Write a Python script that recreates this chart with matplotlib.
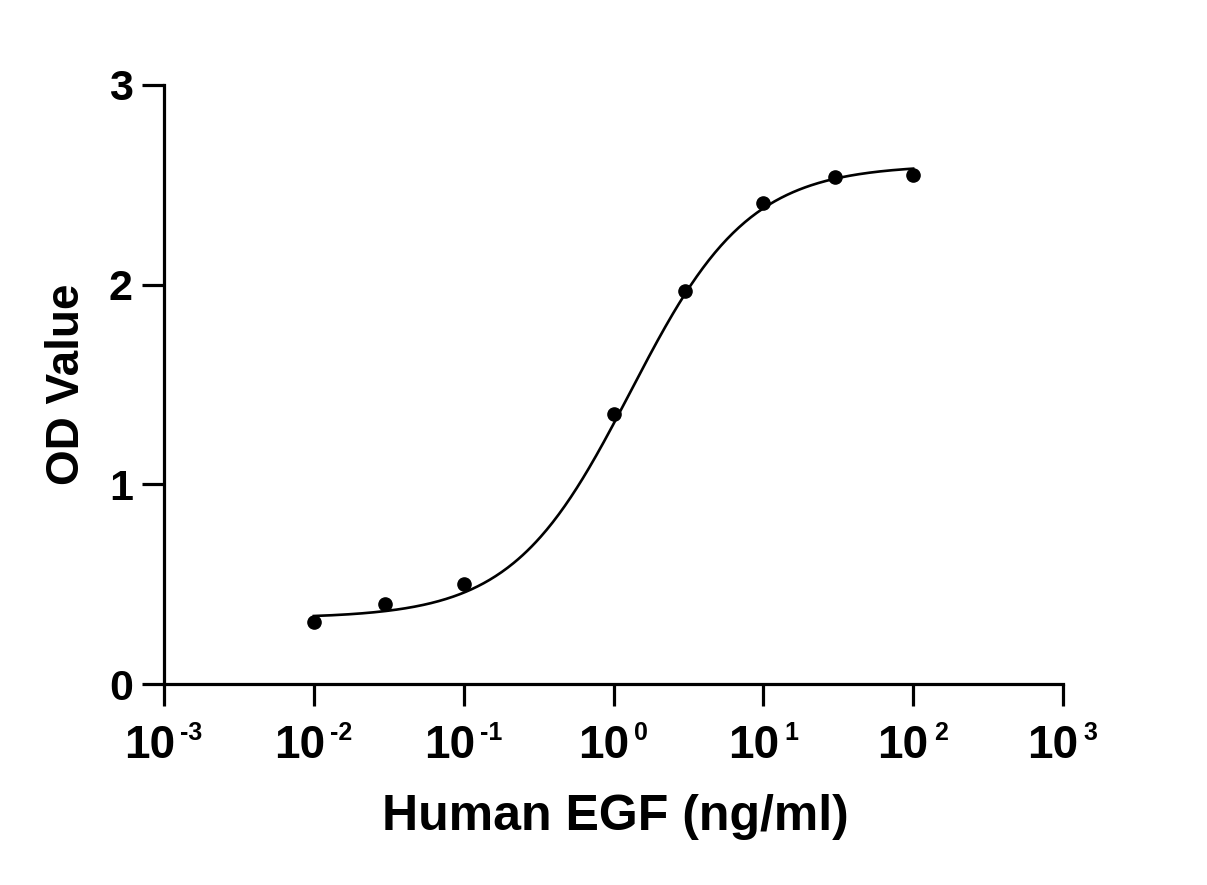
import numpy as np
import matplotlib
matplotlib.use('Agg')
import matplotlib.pyplot as plt
from matplotlib.ticker import FixedLocator, NullLocator
from matplotlib.transforms import offset_copy

plt.rcParams['font.family'] = ['Liberation Sans', 'DejaVu Sans']
plt.rcParams['font.weight'] = 'bold'

# measured points
conc = [0.01, 0.03, 0.1, 1, 3, 10, 30, 100]
od = [0.31, 0.40, 0.50, 1.35, 1.97, 2.41, 2.54, 2.55]

# 4PL fit parameters
bottom = 0.33
top = 2.60
ec50 = 1.3
hill = 1.1

x_exps = [-3, -2, -1, 0, 1, 2, 3]
y_ticks = [0, 1, 2, 3]

fig = plt.figure(figsize=(12.07, 8.85), dpi=100)
ax = fig.add_axes([0.1359, 0.2271, 0.7448, 0.6769])

xc = np.logspace(np.log10(conc[0]), np.log10(conc[-1]), 400)
yc = bottom + (top - bottom) / (1 + (ec50 / xc) ** hill)
ax.plot(xc, yc, color='black', lw=1.9)
ax.plot(conc, od, 'o', color='black', ms=9.5)

ax.set_xscale('log')
ax.set_xlim(1e-3, 1e3)
ax.set_ylim(0, 3)
ax.xaxis.set_major_locator(FixedLocator([10.0 ** e for e in x_exps]))
ax.xaxis.set_minor_locator(NullLocator())
ax.set_yticks(y_ticks)

for s in ['top', 'right']:
    ax.spines[s].set_visible(False)
for s in ['left', 'bottom']:
    ax.spines[s].set_linewidth(2.3)
ax.tick_params(direction='out', length=16, width=2.3, labelsize=31, pad=6.5)
ax.tick_params(axis='x', labelbottom=False)

# x tick labels: "10" with a small raised exponent, centred on the tick
trans = ax.get_xaxis_transform()
for e in x_exps:
    s = str(e).replace('-', '-')
    w = 25 * (0.556 * len(str(abs(e))) + (0.333 if e < 0 else 0))
    dx = (45 - w) / 2
    t1 = offset_copy(trans, fig=fig, x=dx, y=-74, units='dots')
    t2 = offset_copy(trans, fig=fig, x=dx + 5, y=-56, units='dots')
    ax.text(10.0 ** e, 0, '10', transform=t1, ha='right', va='baseline',
            fontsize=33, fontweight='bold')
    ax.text(10.0 ** e, 0, s, transform=t2, ha='left', va='baseline',
            fontsize=18, fontweight='bold')

ax.set_xlabel('Human EGF (ng/ml)', fontsize=36, fontweight='bold')
ax.xaxis.label.set_va('baseline')
ax.xaxis.set_label_coords(0.502, -(830 - 684) / 599)
ax.set_ylabel('OD Value', fontsize=33, fontweight='bold')
ax.yaxis.label.set_va('center')
ax.yaxis.set_label_coords(-(164 - 66.5) / 899, 0.5)

fig.savefig('out.png', dpi=100)
